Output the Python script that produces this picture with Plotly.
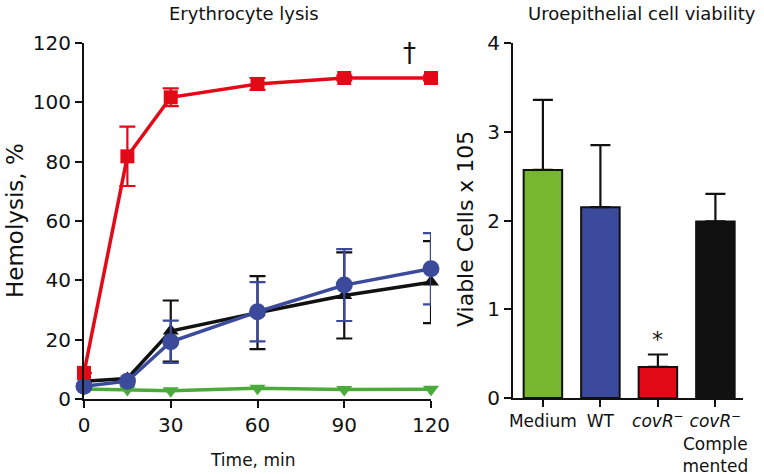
import plotly.graph_objects as go

# ---- Data: Erythrocyte lysis ----
time_min = [0, 15, 30, 60, 90, 120]
covR_lysis = [8.8, 81.8, 101.7, 106.2, 108.2, 108.2]
covR_err = [0, 10.0, 3.0, 2.0, 0.8, 0.8]
compl_lysis = [6.0, 6.9, 22.9, 29.1, 34.9, 39.4]
compl_err = [0, 0, 10.3, 12.3, 14.5, 13.8]
wt_lysis = [4.3, 6.0, 19.3, 29.4, 38.4, 43.9]
wt_err = [0, 0, 7.1, 10.0, 12.1, 12.0]
medium_lysis = [3.4, 3.2, 2.8, 3.6, 3.2, 3.3]
x_ticks_left = [0, 30, 60, 90, 120]
y_ticks_left = [0, 20, 40, 60, 80, 100, 120]

# ---- Data: Uroepithelial cell viability ----
categories = ["Medium", "WT", "<i>covR</i><sup>−</sup>", "<i>covR</i><sup>−</sup><br>Comple<br>mented"]
viable = [2.57, 2.15, 0.35, 1.99]
viable_err = [0.79, 0.70, 0.14, 0.31]
bar_colors = ["#76b72f", "#3b4a9b", "#e30a17", "#111111"]
y_ticks_right = [0, 1, 2, 3, 4]

FONT = "DejaVu Sans"
RED = "#e30a17"
BLUE = "#3b4a9b"
BLACK = "#111111"
GREEN = "#4aab3a"

fig = go.Figure()

def line_trace(y, err, color, symbol, size):
    return go.Scatter(
        x=time_min, y=y, mode="lines+markers",
        line=dict(color=color, width=3.5),
        marker=dict(symbol=symbol, size=size, color=color),
        error_y=dict(type="data", array=err, visible=True, color=color,
                     thickness=2.2, width=8),
        cliponaxis=False, xaxis="x", yaxis="y", showlegend=False,
    )

fig.add_trace(line_trace(medium_lysis, None, GREEN, "triangle-down", 14))
fig.add_trace(line_trace(compl_lysis, compl_err, BLACK, "triangle-up", 14))
fig.add_trace(line_trace(wt_lysis, wt_err, BLUE, "circle", 17))
fig.add_trace(line_trace(covR_lysis, covR_err, RED, "square", 14))

fig.add_trace(go.Bar(
    x=list(range(len(categories))), y=viable,
    marker=dict(color=bar_colors, line=dict(color="#111111", width=2)),
    width=0.67,
    error_y=dict(type="data", array=viable_err, arrayminus=[0]*4, symmetric=False,
                 visible=True, color="#111111", thickness=2.2, width=10),
    xaxis="x2", yaxis="y2", showlegend=False, cliponaxis=False,
))

axis_common = dict(showline=True, linecolor="#111111", linewidth=2,
                   ticks="outside", ticklen=7, tickwidth=2, tickcolor="#111111",
                   showgrid=False, zeroline=False, automargin=False, tickangle=0,
                   tickfont=dict(family=FONT, size=20, color="#111111"))

fig.update_layout(
    width=764, height=474,
    margin=dict(l=0, r=0, t=0, b=0),
    paper_bgcolor="white", plot_bgcolor="white",
    font=dict(family=FONT, color="#111111"),
    xaxis=dict(domain=[84/764, 431/764], range=[0, 120], tickvals=x_ticks_left,
               anchor="y", **axis_common),
    yaxis=dict(domain=[1-399/474, 1-43/474], range=[0, 120], tickvals=y_ticks_left,
               anchor="x", **axis_common),
    xaxis2=dict(domain=[513/764, 743/764], range=[-0.52, 3.48],
                tickvals=list(range(len(categories))), ticktext=categories,
                anchor="y2", **{**axis_common, "tickfont": dict(family=FONT, size=17, color="#111111")}),
    yaxis2=dict(domain=[1-398/474, 1-43/474], range=[0, 4], tickvals=y_ticks_right,
                anchor="x2", **axis_common),
)

ann = [
    dict(text="Erythrocyte lysis", x=244/764, y=1-14/474, size=18),
    dict(text="Uroepithelial cell viability", x=642/764, y=1-14/474, size=18),
    dict(text="Time, min", x=252/764, y=1-460/474, size=17),
]
for a in ann:
    fig.add_annotation(text=a["text"], x=a["x"], y=a["y"], xref="paper", yref="paper",
                       showarrow=False, font=dict(family=FONT, size=a["size"], color="#111111"),
                       xanchor="center", yanchor="middle")
fig.add_annotation(text="Hemolysis, %", x=15/764, y=1-221/474, xref="paper", yref="paper",
                   showarrow=False, textangle=-90,
                   font=dict(family=FONT, size=23, color="#111111"),
                   xanchor="center", yanchor="middle")
fig.add_annotation(text="Viable Cells x 105", x=465/764, y=1-229/474, xref="paper", yref="paper",
                   showarrow=False, textangle=-90,
                   font=dict(family=FONT, size=22, color="#111111"),
                   xanchor="center", yanchor="middle")
fig.add_annotation(text="†", x=112.5, y=116.5, xref="x", yref="y", showarrow=False,
                   font=dict(family=FONT, size=26, color="#111111"))
fig.add_annotation(text="*", x=2, y=0.66, xref="x2", yref="y2", showarrow=False,
                   font=dict(family=FONT, size=22, color="#111111"))

fig.write_html("out.html", config={"displayModeBar": False},
               post_script="document.body.style.margin='0';document.body.style.padding='0';document.body.style.overflow='hidden';")
